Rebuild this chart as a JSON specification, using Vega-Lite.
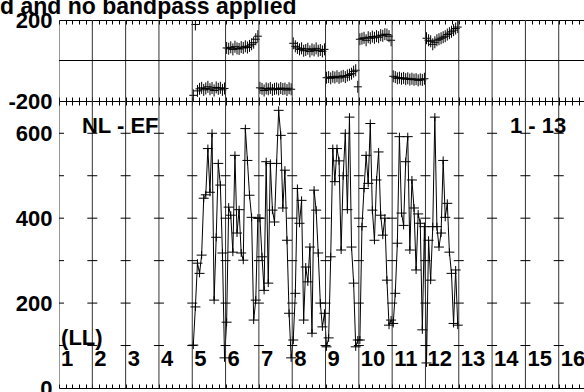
{
  "$schema": "https://vega.github.io/schema/vega-lite/v6.json",
  "autosize": {"type": "pad"},
  "padding": {"left": 0, "top": -4, "right": 0, "bottom": 0},
  "background": "white",
  "title": {"text": "d and no bandpass applied", "anchor": "start", "frame": "group", "dx": -59, "offset": -28, "baseline": "alphabetic", "fontSize": 23, "font": "Liberation Sans", "fontWeight": "bold", "color": "black"},
  "config": {"view": {"stroke": null}, "font": "Liberation Sans"},
  "spacing": 0,
  "bounds": "flush",
  "datasets": {
    "chan": [
      {"c": 64.5, "amp": 101, "ph": -172}, {"c": 65.5, "amp": 191, "ph": 178}, {"c": 66.5, "amp": 294, "ph": -150}, {"c": 67.5, "amp": 270, "ph": -140},
      {"c": 68.5, "amp": 313, "ph": -135}, {"c": 69.5, "amp": 447, "ph": -145}, {"c": 70.5, "amp": 455, "ph": -138}, {"c": 71.5, "amp": 564, "ph": -130},
      {"c": 72.5, "amp": 461, "ph": -142}, {"c": 73.5, "amp": 600, "ph": -136}, {"c": 74.5, "amp": 207, "ph": -148}, {"c": 75.5, "amp": 355, "ph": -133},
      {"c": 76.5, "amp": 529, "ph": -140}, {"c": 77.5, "amp": 478, "ph": -135}, {"c": 78.5, "amp": 318, "ph": -145}, {"c": 79.5, "amp": 71, "ph": -138},
      {"c": 80.5, "amp": 155, "ph": 62}, {"c": 81.5, "amp": 426, "ph": 58}, {"c": 82.5, "amp": 407, "ph": 65}, {"c": 83.5, "amp": 320, "ph": 55},
      {"c": 84.5, "amp": 548, "ph": 68}, {"c": 85.5, "amp": 365, "ph": 60}, {"c": 86.5, "amp": 420, "ph": 57}, {"c": 87.5, "amp": 318, "ph": 66},
      {"c": 88.5, "amp": 301, "ph": 62}, {"c": 89.5, "amp": 611, "ph": 70}, {"c": 90.5, "amp": 536, "ph": 64}, {"c": 91.5, "amp": 454, "ph": 72},
      {"c": 92.5, "amp": 402, "ph": 80}, {"c": 93.5, "amp": 160, "ph": 88}, {"c": 94.5, "amp": 207, "ph": 105}, {"c": 95.5, "amp": 400, "ph": 120},
      {"c": 96.5, "amp": 400, "ph": -135}, {"c": 97.5, "amp": 309, "ph": -140}, {"c": 98.5, "amp": 230, "ph": -148}, {"c": 99.5, "amp": 533, "ph": -138},
      {"c": 100.5, "amp": 247, "ph": -142}, {"c": 101.5, "amp": 529, "ph": -136}, {"c": 102.5, "amp": 419, "ph": -145}, {"c": 103.5, "amp": 391, "ph": -140},
      {"c": 104.5, "amp": 529, "ph": -138}, {"c": 105.5, "amp": 654, "ph": -143}, {"c": 106.5, "amp": 595, "ph": -136}, {"c": 107.5, "amp": 424, "ph": -141},
      {"c": 108.5, "amp": 513, "ph": -139}, {"c": 109.5, "amp": 348, "ph": -146}, {"c": 110.5, "amp": 176, "ph": -137}, {"c": 111.5, "amp": 71, "ph": -142},
      {"c": 112.5, "amp": 113, "ph": 85}, {"c": 113.5, "amp": 223, "ph": 70}, {"c": 114.5, "amp": 470, "ph": 62}, {"c": 115.5, "amp": 388, "ph": 55},
      {"c": 116.5, "amp": 442, "ph": 60}, {"c": 117.5, "amp": 160, "ph": 48}, {"c": 118.5, "amp": 285, "ph": 52}, {"c": 119.5, "amp": 250, "ph": 58},
      {"c": 120.5, "amp": 332, "ph": 45}, {"c": 121.5, "amp": 129, "ph": 55}, {"c": 122.5, "amp": 466, "ph": 50}, {"c": 123.5, "amp": 419, "ph": 60},
      {"c": 124.5, "amp": 318, "ph": 48}, {"c": 125.5, "amp": 200, "ph": 52}, {"c": 126.5, "amp": 144, "ph": 45}, {"c": 127.5, "amp": 176, "ph": 55},
      {"c": 128.5, "amp": 97, "ph": -85}, {"c": 129.5, "amp": 118, "ph": -82}, {"c": 130.5, "amp": 309, "ph": -88}, {"c": 131.5, "amp": 564, "ph": -80},
      {"c": 132.5, "amp": 486, "ph": -84}, {"c": 133.5, "amp": 564, "ph": -78}, {"c": 134.5, "amp": 535, "ph": -86}, {"c": 135.5, "amp": 325, "ph": -80},
      {"c": 136.5, "amp": 500, "ph": -76}, {"c": 137.5, "amp": 600, "ph": -82}, {"c": 138.5, "amp": 420, "ph": -74}, {"c": 139.5, "amp": 638, "ph": -70},
      {"c": 140.5, "amp": 332, "ph": -65}, {"c": 141.5, "amp": 247, "ph": -55}, {"c": 142.5, "amp": 97, "ph": -48}, {"c": 143.5, "amp": 113, "ph": -130},
      {"c": 144.5, "amp": 113, "ph": 105}, {"c": 145.5, "amp": 380, "ph": 108}, {"c": 146.5, "amp": 470, "ph": 112}, {"c": 147.5, "amp": 548, "ph": 100},
      {"c": 148.5, "amp": 482, "ph": 115}, {"c": 149.5, "amp": 623, "ph": 110}, {"c": 150.5, "amp": 419, "ph": 118}, {"c": 151.5, "amp": 348, "ph": 112},
      {"c": 152.5, "amp": 490, "ph": 120}, {"c": 153.5, "amp": 556, "ph": 115}, {"c": 154.5, "amp": 407, "ph": 125}, {"c": 155.5, "amp": 360, "ph": 122},
      {"c": 156.5, "amp": 400, "ph": 130}, {"c": 157.5, "amp": 254, "ph": 128}, {"c": 158.5, "amp": 148, "ph": 120}, {"c": 159.5, "amp": 160, "ph": 100},
      {"c": 160.5, "amp": 152, "ph": -78}, {"c": 161.5, "amp": 223, "ph": -82}, {"c": 162.5, "amp": 341, "ph": -88}, {"c": 163.5, "amp": 592, "ph": -85},
      {"c": 164.5, "amp": 412, "ph": -90}, {"c": 165.5, "amp": 383, "ph": -86}, {"c": 166.5, "amp": 533, "ph": -92}, {"c": 167.5, "amp": 592, "ph": -88},
      {"c": 168.5, "amp": 325, "ph": -94}, {"c": 169.5, "amp": 490, "ph": -90}, {"c": 170.5, "amp": 424, "ph": -95}, {"c": 171.5, "amp": 278, "ph": -92},
      {"c": 172.5, "amp": 410, "ph": -98}, {"c": 173.5, "amp": 388, "ph": -93}, {"c": 174.5, "amp": 137, "ph": -96}, {"c": 175.5, "amp": 380, "ph": -90},
      {"c": 176.5, "amp": 59, "ph": 110}, {"c": 177.5, "amp": 348, "ph": 100}, {"c": 178.5, "amp": 254, "ph": 95}, {"c": 179.5, "amp": 380, "ph": 80},
      {"c": 180.5, "amp": 638, "ph": 90}, {"c": 181.5, "amp": 380, "ph": 100}, {"c": 182.5, "amp": 332, "ph": 105}, {"c": 183.5, "amp": 365, "ph": 110},
      {"c": 184.5, "amp": 536, "ph": 115}, {"c": 185.5, "amp": 402, "ph": 120}, {"c": 186.5, "amp": 435, "ph": 128}, {"c": 187.5, "amp": 320, "ph": 135},
      {"c": 188.5, "amp": 270, "ph": 142}, {"c": 189.5, "amp": 152, "ph": 150}, {"c": 190.5, "amp": 278, "ph": 158}, {"c": 191.5, "amp": 148, "ph": 165}
    ],
    "bounds": [
      {"b": 0, "lab": "1", "lv": [100, 200, 300, 400, 500, 600]},
      {"b": 16, "lab": "2", "lv": [100, 200, 300, 400, 500, 600]},
      {"b": 32, "lab": "3", "lv": [100, 200, 300, 400, 500, 600]},
      {"b": 48, "lab": "4", "lv": [100, 200, 300, 400, 500, 600]},
      {"b": 64, "lab": "5", "lv": [100, 200, 300, 400, 500, 600]},
      {"b": 80, "lab": "6", "lv": [100, 200, 300, 400, 500, 600]},
      {"b": 96, "lab": "7", "lv": [100, 200, 300, 400, 500, 600]},
      {"b": 112, "lab": "8", "lv": [100, 200, 300, 400, 500, 600]},
      {"b": 128, "lab": "9", "lv": [100, 200, 300, 400, 500, 600]},
      {"b": 144, "lab": "10", "lv": [100, 200, 300, 400, 500, 600]},
      {"b": 160, "lab": "11", "lv": [100, 200, 300, 400, 500, 600]},
      {"b": 176, "lab": "12", "lv": [100, 200, 300, 400, 500, 600]},
      {"b": 192, "lab": "13", "lv": [100, 200, 300, 400, 500, 600]},
      {"b": 208, "lab": "14", "lv": [100, 200, 300, 400, 500, 600]},
      {"b": 224, "lab": "15", "lv": [100, 200, 300, 400, 500, 600]},
      {"b": 240, "lab": "16", "lv": [100, 200, 300, 400, 500, 600]}
    ],
    "notes": [
      {"x": 11, "y": 617, "t": "NL - EF"},
      {"x": 216.6, "y": 617, "t": "1 - 13"},
      {"x": 1.0, "y": 118, "t": "(LL)"}
    ]
  },
  "vconcat": [
    {
      "width": 527,
      "height": 81,
      "layer": [
        {
          "data": {"name": "chan"},
          "mark": {"type": "point", "shape": "M-1,0H1M0,-1.5V1.5", "size": 64, "stroke": "black", "strokeWidth": 1, "filled": false, "opacity": 1, "clip": true},
          "encoding": {
            "x": {"field": "c", "type": "quantitative",
              "scale": {"domain": [0, 253.1], "nice": false, "zero": false},
              "axis": {"orient": "bottom", "values": [0,3.2,6.4,9.6,12.8,16,19.2,22.4,25.6,28.8,32,35.2,38.4,41.6,44.8,48,51.2,54.4,57.6,60.8,64,67.2,70.4,73.6,76.8,80,83.2,86.4,89.6,92.8,96,99.2,102.4,105.6,108.8,112,115.2,118.4,121.6,124.8,128,131.2,134.4,137.6,140.8,144,147.2,150.4,153.6,156.8,160,163.2,166.4,169.6,172.8,176,179.2,182.4,185.6,188.8,192,195.2,198.4,201.6,204.8,208,211.2,214.4,217.6,220.8,224,227.2,230.4,233.6,236.8,240,243.2,246.4,249.6,252.8],
                "tickSize": -4, "labels": false, "title": null, "grid": false, "domainColor": "black", "tickColor": "black", "domainWidth": 1, "tickWidth": 1}},
            "y": {"field": "ph", "type": "quantitative",
              "scale": {"domain": [-200, 200], "nice": false, "zero": false},
              "axis": {"values": [-200, 200], "labelExpr": "datum.value < 0 ? '-' + abs(datum.value) : datum.label", "title": null, "ticks": false, "domain": false, "grid": false, "labelPadding": 7, "labelFontSize": 22, "labelFont": "Liberation Sans", "labelFontWeight": "bold", "labelFlush": false, "labelOverlap": false, "labelColor": "black"}}
          }
        },
        {
          "data": {"name": "bounds"},
          "mark": {"type": "rule", "color": "#333", "strokeWidth": 1, "clip": true},
          "encoding": {
            "x": {"field": "b", "type": "quantitative",
              "axis": {"orient": "top", "values": [0,3.2,6.4,9.6,12.8,16,19.2,22.4,25.6,28.8,32,35.2,38.4,41.6,44.8,48,51.2,54.4,57.6,60.8,64,67.2,70.4,73.6,76.8,80,83.2,86.4,89.6,92.8,96,99.2,102.4,105.6,108.8,112,115.2,118.4,121.6,124.8,128,131.2,134.4,137.6,140.8,144,147.2,150.4,153.6,156.8,160,163.2,166.4,169.6,172.8,176,179.2,182.4,185.6,188.8,192,195.2,198.4,201.6,204.8,208,211.2,214.4,217.6,220.8,224,227.2,230.4,233.6,236.8,240,243.2,246.4,249.6,252.8],
                "tickSize": -4, "labels": false, "title": null, "grid": false, "domainColor": "black", "tickColor": "black", "domainWidth": 1, "tickWidth": 1}}
          }
        },
        {
          "data": {"values": [{}]},
          "mark": {"type": "rule", "color": "black", "strokeWidth": 1},
          "encoding": {"y": {"datum": 0, "type": "quantitative"}}
        }
      ],
      "resolve": {"axis": {"x": "independent"}}
    },
    {
      "width": 527,
      "height": 287,
      "layer": [
        {
          "data": {"name": "chan"},
          "mark": {"type": "line", "color": "black", "strokeWidth": 1, "clip": true},
          "encoding": {
            "x": {"field": "c", "type": "quantitative",
              "scale": {"domain": [0, 253.1], "nice": false, "zero": false},
              "axis": {"orient": "bottom", "values": [0,3.2,6.4,9.6,12.8,16,19.2,22.4,25.6,28.8,32,35.2,38.4,41.6,44.8,48,51.2,54.4,57.6,60.8,64,67.2,70.4,73.6,76.8,80,83.2,86.4,89.6,92.8,96,99.2,102.4,105.6,108.8,112,115.2,118.4,121.6,124.8,128,131.2,134.4,137.6,140.8,144,147.2,150.4,153.6,156.8,160,163.2,166.4,169.6,172.8,176,179.2,182.4,185.6,188.8,192,195.2,198.4,201.6,204.8,208,211.2,214.4,217.6,220.8,224,227.2,230.4,233.6,236.8,240,243.2,246.4,249.6,252.8],
                "tickSize": -4, "labels": false, "title": null, "grid": false, "domainColor": "black", "tickColor": "black", "domainWidth": 1, "tickWidth": 1}},
            "y": {"field": "amp", "type": "quantitative",
              "scale": {"domain": [0, 676], "nice": false, "zero": false},
              "axis": {"values": [0, 200, 400, 600], "title": null, "ticks": false, "domain": false, "grid": false, "labelPadding": 7, "labelFontSize": 22, "labelFont": "Liberation Sans", "labelFontWeight": "bold", "labelFlush": false, "labelOverlap": false, "labelColor": "black"}}
          }
        },
        {
          "data": {"name": "bounds"},
          "mark": {"type": "rule", "color": "#333", "strokeWidth": 1, "clip": true},
          "encoding": {
            "x": {"field": "b", "type": "quantitative",
              "axis": {"orient": "top", "values": [0,3.2,6.4,9.6,12.8,16,19.2,22.4,25.6,28.8,32,35.2,38.4,41.6,44.8,48,51.2,54.4,57.6,60.8,64,67.2,70.4,73.6,76.8,80,83.2,86.4,89.6,92.8,96,99.2,102.4,105.6,108.8,112,115.2,118.4,121.6,124.8,128,131.2,134.4,137.6,140.8,144,147.2,150.4,153.6,156.8,160,163.2,166.4,169.6,172.8,176,179.2,182.4,185.6,188.8,192,195.2,198.4,201.6,204.8,208,211.2,214.4,217.6,220.8,224,227.2,230.4,233.6,236.8,240,243.2,246.4,249.6,252.8],
                "tickSize": -4, "labels": false, "title": null, "grid": false, "domainColor": "black", "tickColor": "black", "domainWidth": 1, "tickWidth": 1}}
          }
        },
        {
          "data": {"name": "bounds"},
          "transform": [{"flatten": ["lv"]}],
          "mark": {"type": "point", "shape": "stroke", "size": 100, "stroke": "black", "strokeWidth": 1, "filled": false, "opacity": 1, "clip": true},
          "encoding": {
            "x": {"field": "b", "type": "quantitative", "axis": null},
            "y": {"field": "lv", "type": "quantitative"}
          }
        },
        {
          "data": {"name": "chan"},
          "mark": {"type": "point", "shape": "M-1,0H1M0,-0.8V0.8", "size": 100, "stroke": "black", "strokeWidth": 1, "filled": false, "opacity": 1, "clip": true},
          "encoding": {
            "x": {"field": "c", "type": "quantitative", "axis": null},
            "y": {"field": "amp", "type": "quantitative"}
          }
        },
        {
          "data": {"name": "notes"},
          "mark": {"type": "text", "align": "left", "baseline": "middle", "fontSize": 22, "fontWeight": "bold", "font": "Liberation Sans", "color": "black"},
          "encoding": {
            "x": {"field": "x", "type": "quantitative", "axis": null},
            "y": {"field": "y", "type": "quantitative"},
            "text": {"field": "t"}
          }
        },
        {
          "data": {"name": "bounds"},
          "mark": {"type": "text", "align": "left", "baseline": "middle", "dx": 2, "fontSize": 22, "fontWeight": "bold", "font": "Liberation Sans", "color": "black"},
          "encoding": {
            "x": {"field": "b", "type": "quantitative", "axis": null},
            "y": {"datum": 68, "type": "quantitative"},
            "text": {"field": "lab"}
          }
        }
      ],
      "resolve": {"axis": {"x": "independent"}}
    }
  ]
}
